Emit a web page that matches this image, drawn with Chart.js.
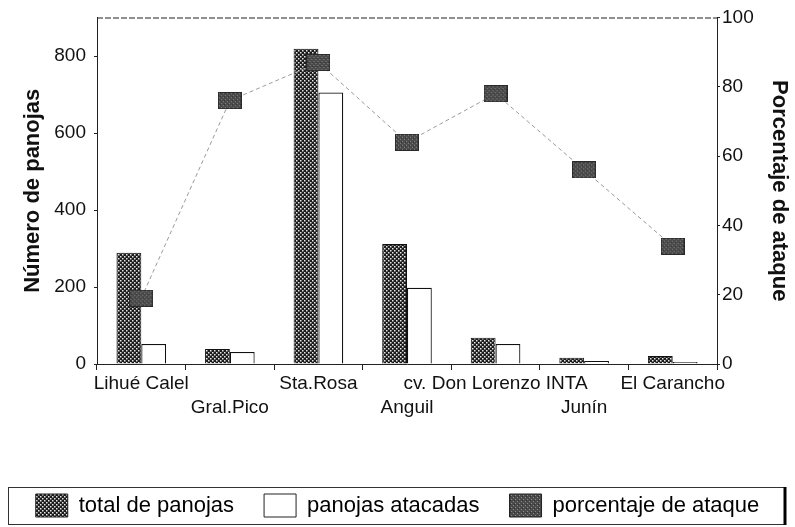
<!DOCTYPE html>
<html><head><meta charset="utf-8">
<script src="https://cdn.jsdelivr.net/npm/chart.js@4/dist/chart.umd.min.js"></script>
<style>html,body{margin:0;padding:0;background:#fff}#w{width:795px;height:527px}</style>
</head><body><div id="w"><canvas id="c" width="795" height="527"></canvas></div>
<script>
const categories = ["Lihué Calel","Gral.Pico","Sta.Rosa","Anguil","cv. Don Lorenzo INTA","Junín","El Carancho"];
const tickRows = [0,1,0,1,0,1,0];
const totalPanojas = [289,39,819,312,68,16,21];
const panojasAtacadas = [52,31,705,198,52,8,5];
const porcentajeAtaque = [19,76,87,64,78,56,34];
const leftTicks = [0,200,400,600,800];
const rightTicks = [0,20,40,60,80,100];
const seriesNames = ["total de panojas","panojas atacadas","porcentaje de ataque"];

const FONT = "'Liberation Sans', Arial, sans-serif";

function makeCanvas(w,h){const c=document.createElement('canvas');c.width=w;c.height=h;return c;}
// checkered pattern for total bars
const pc = makeCanvas(4,4); {const g=pc.getContext('2d');g.fillStyle='#1c1c1c';g.fillRect(0,0,4,4);g.fillStyle='#e8e8e8';g.fillRect(0,0,1.5,1.5);g.fillRect(2,2,1.5,1.5);}
const barPattern = pc.getContext('2d').createPattern(pc,'repeat');
// marker texture
const mc = makeCanvas(4,4); {const g=mc.getContext('2d');g.fillStyle='#4a4a4a';g.fillRect(0,0,4,4);g.fillStyle='#8a8a8a';g.fillRect(1,1,1,1);g.fillRect(3,3,1,1);g.fillStyle='#2e2e2e';g.fillRect(2,0,1,1);}
const markerPattern = mc.getContext('2d').createPattern(mc,'repeat');
const marker = makeCanvas(24,17); {const g=marker.getContext('2d');g.fillStyle=markerPattern;g.fillRect(0,0,24,17);g.strokeStyle='#2a2a2a';g.lineWidth=1;g.strokeRect(0.5,0.5,23,16);}

const framePlugin = {
  id:'frame',
  afterDraw(chart){
    const {ctx, chartArea:a} = chart;
    ctx.save();
    ctx.strokeStyle='#222'; ctx.lineWidth=1; ctx.setLineDash([6,2]);
    ctx.beginPath(); ctx.moveTo(a.left, a.top+0.5); ctx.lineTo(a.right, a.top+0.5); ctx.stroke();
    const lg = chart.legend;
    if (lg && lg.legendHitBoxes && lg.legendHitBoxes.length){
      const hb = lg.legendHitBoxes[0];
      const top = hb.top - 7, h = hb.height + 14;
      ctx.setLineDash([]);
      ctx.strokeStyle='#333';
      ctx.strokeRect(8.5, top+0.5, chart.width-19, h);
      ctx.lineWidth=3; ctx.strokeStyle='#000';
      ctx.beginPath(); ctx.moveTo(chart.width-10, top); ctx.lineTo(chart.width-10, top+h+1); ctx.stroke();
    }
    ctx.restore();
  }
};

new Chart(document.getElementById('c'), {
  data: {
    labels: categories,
    datasets: [
      {type:'bar', label:seriesNames[0], data:totalPanojas, backgroundColor:barPattern, borderColor:'#111', borderWidth:1, yAxisID:'y', order:1},
      {type:'bar', label:seriesNames[1], data:panojasAtacadas, backgroundColor:'#fff', borderColor:'#111', borderWidth:1.2, yAxisID:'y', order:1},
      {type:'line', label:seriesNames[2], data:porcentajeAtaque, yAxisID:'y1', order:0,
        borderColor:'#9a9a9a', borderWidth:1, borderDash:[4,3], backgroundColor:markerPattern,
        pointStyle:marker, pointRadius:9, tension:0, fill:false}
    ]
  },
  options: {
    responsive:false, animation:false, devicePixelRatio:1,
    layout:{padding:{top:16,left:0,right:0,bottom:0}},
    datasets:{bar:{categoryPercentage:0.56, barPercentage:1.0}},
    plugins:{
      tooltip:{enabled:false},
      legend:{
        position:'bottom',
        labels:{
          font:{family:FONT,size:22}, color:'#111', boxWidth:32, boxHeight:23, padding:30,
          generateLabels(chart){
            return chart.data.datasets.map((d,i)=>({
              text:d.label, fillStyle: i===0?barPattern:(i===1?'#fff':markerPattern),
              strokeStyle:'#222', lineWidth:1, lineDash:[], hidden:false, datasetIndex:i
            }));
          }
        }
      }
    },
    scales:{
      x:{
        offset:true,
        grid:{offset:true, drawOnChartArea:false, tickLength:6, color:'#222'},
        border:{color:'#222'},
        ticks:{autoSkip:false, maxRotation:0, minRotation:0, padding:2, color:'#111',
          font:{family:FONT,size:19, lineHeight:1.27},
          callback(v,i){ const l=categories[i]; return tickRows[i]===0?[l,'']:['',l]; }},
        afterFit(s){ s.height = 100; }
      },
      y:{
        position:'left', min:0, max:900,
        afterBuildTicks(s){ s.ticks = leftTicks.map(v=>({value:v})); },
        grid:{drawOnChartArea:false, tickLength:3, color:'#222'},
        border:{color:'#222', dash:[6,2]},
        ticks:{color:'#111', font:{family:FONT,size:19,lineHeight:1}, padding:8},
        title:{display:true, text:'Número de panojas', color:'#111', font:{family:FONT,size:22,weight:'bold'}, padding:{top:20,bottom:0}},
        afterFit(s){ s.width = 97; }
      },
      y1:{
        position:'right', min:0, max:100,
        afterBuildTicks(s){ s.ticks = rightTicks.map(v=>({value:v})); },
        grid:{drawOnChartArea:false, tickLength:3, color:'#222'},
        border:{color:'#222', dash:[6,2]},
        ticks:{color:'#111', font:{family:FONT,size:19,lineHeight:1}, padding:2},
        title:{display:true, text:'Porcentaje de ataque', color:'#111', font:{family:FONT,size:22,weight:'bold'}, padding:{top:3,bottom:0}},
        afterFit(s){ s.width = 78; }
      }
    }
  },
  plugins:[framePlugin]
});
</script></body></html>
